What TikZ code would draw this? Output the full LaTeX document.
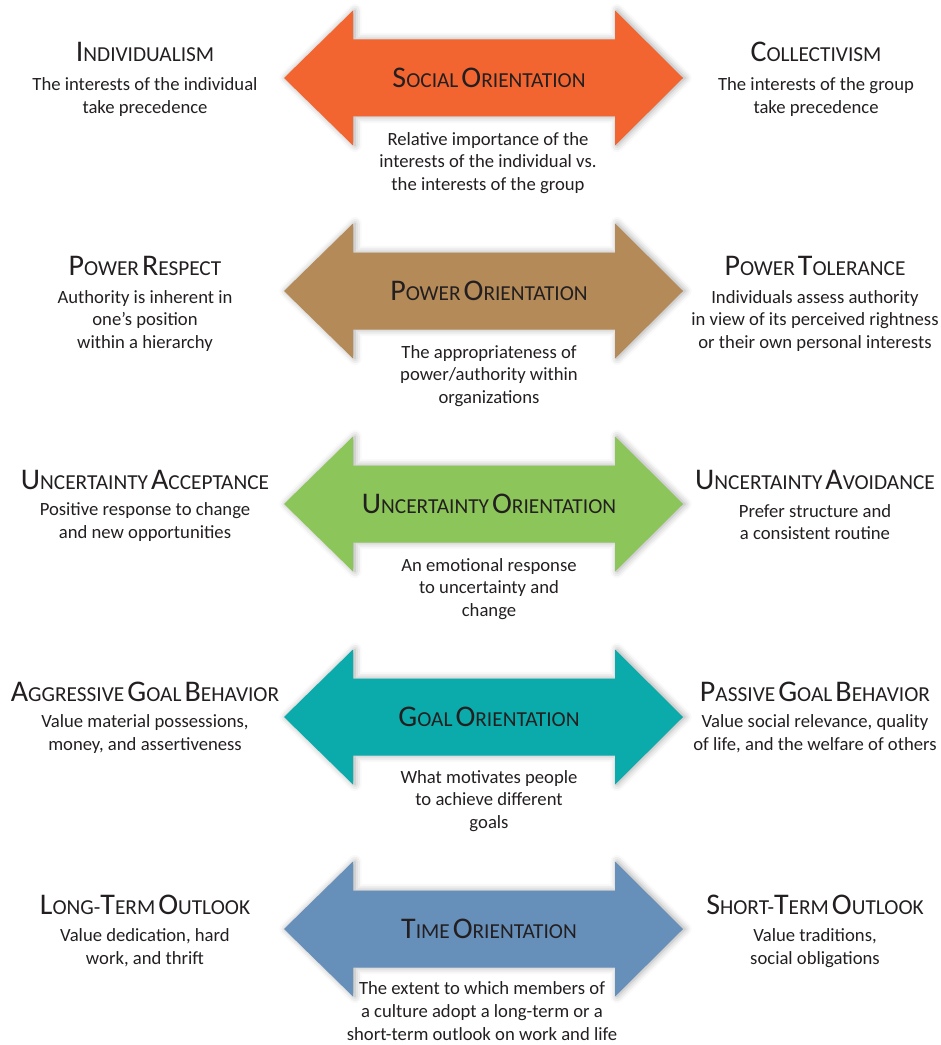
\documentclass[tikz,border=0pt]{standalone}
\usepackage{fontspec}
\setmainfont{Carlito}
\usepackage{tikz}
\usetikzlibrary{positioning, shadows.blur}
\definecolor{txt}{HTML}{231F20}
\definecolor{socialc}{HTML}{F26530}
\definecolor{powerc}{HTML}{B48A58}
\definecolor{uncertc}{HTML}{8CC65A}
\definecolor{goalc}{HTML}{0AABAA}
\definecolor{timec}{HTML}{668FBA}
\newcommand{\capword}[2]{{\fontsize{22.5}{26}\selectfont #1}{\fontsize{16}{19}\selectfont #2}}
\newcommand{\twoway}[2]{\fill[#2, blur shadow={shadow xshift=1.5pt, shadow yshift=0pt, shadow blur radius=5pt, shadow opacity=35}]
	(284,#1) -- (353,#1-67.5) -- (353,#1-38.5) -- (615,#1-38.5) -- (615,#1-67.5) -- (683,#1)
	-- (615,#1+67.5) -- (615,#1+38.5) -- (353,#1+38.5) -- (353,#1+67.5) -- cycle;}
\tikzstyle{head}=[text=txt, inner sep=0pt]
\tikzstyle{desc}=[text=txt, align=center, inner sep=0pt, font=\fontsize{14}{17}\selectfont]

\begin{document}
\begin{tikzpicture}[x=0.75pt, y=-0.75pt]
	\useasboundingbox (0,0) rectangle (940,1045);
	% arrows
	\twoway{78}{socialc}
	\twoway{291}{powerc}
	\twoway{504}{uncertc}
	\twoway{717}{goalc}
	\twoway{929}{timec}
	% social orientation
	\node [head] (so) at (489, 78) {\capword{S}{OCIAL} \capword{O}{RIENTATION}};
	\node [desc] (sod) at (488, 163) {Relative importance of the\\interests of the individual vs.\\the interests of the group};
	\node [head] (ind) at (145, 52) {\capword{I}{NDIVIDUALISM}};
	\node [desc] (indd) at (145, 97) {The interests of the individual\\take precedence};
	\node [head] (col) at (816, 52) {\capword{C}{OLLECTIVISM}};
	\node [desc] (cold) at (816, 97) {The interests of the group\\take precedence};
	% power orientation
	\node [head] (po) at (489, 291) {\capword{P}{OWER} \capword{O}{RIENTATION}};
	\node [desc] (pod) at (489, 376) {The appropriateness of\\power/authority within\\organizations};
	\node [head] (pr) at (145, 266) {\capword{P}{OWER} \capword{R}{ESPECT}};
	\node [desc] (prd) at (145, 321) {Authority is inherent in\\one’s position\\within a hierarchy};
	\node [head] (pt) at (815, 266) {\capword{P}{OWER} \capword{T}{OLERANCE}};
	\node [desc] (ptd) at (815, 321) {Individuals assess authority\\in view of its perceived rightness\\or their own personal interests};
	% uncertainty orientation
	\node [head] (uo) at (489, 504) {\capword{U}{NCERTAINTY} \capword{O}{RIENTATION}};
	\node [desc] (uod) at (489, 589) {An emotional response\\to uncertainty and\\change};
	\node [head] (uac) at (145, 480) {\capword{U}{NCERTAINTY} \capword{A}{CCEPTANCE}};
	\node [desc] (uacd) at (145, 522) {Positive response to change\\and new opportunities};
	\node [head] (uav) at (815, 480) {\capword{U}{NCERTAINTY} \capword{A}{VOIDANCE}};
	\node [desc] (uavd) at (815, 522) {Prefer structure and\\a consistent routine};
	% goal orientation
	\node [head] (go) at (489, 717) {\capword{G}{OAL} \capword{O}{RIENTATION}};
	\node [desc] (god) at (489, 801) {What motivates people\\to achieve different\\goals};
	\node [head] (agb) at (145, 692) {\capword{A}{GGRESSIVE} \capword{G}{OAL} \capword{B}{EHAVIOR}};
	\node [desc] (agbd) at (145, 734) {Value material possessions,\\money, and assertiveness};
	\node [head] (pgb) at (815, 692) {\capword{P}{ASSIVE} \capword{G}{OAL} \capword{B}{EHAVIOR}};
	\node [desc] (pgbd) at (815, 734) {Value social relevance, quality\\of life, and the welfare of others};
	% time orientation
	\node [head] (to) at (489, 929) {\capword{T}{IME} \capword{O}{RIENTATION}};
	\node [desc] (tod) at (482, 1011) {The extent to which members of\\a culture adopt a long-term or a\\short-term outlook on work and life};
	\node [head] (lto) at (145, 905) {\capword{L}{ONG-}\capword{T}{ERM} \capword{O}{UTLOOK}};
	\node [desc] (ltod) at (145, 948) {Value dedication, hard\\work, and thrift};
	\node [head] (sto) at (815, 905) {\capword{S}{HORT-}\capword{T}{ERM} \capword{O}{UTLOOK}};
	\node [desc] (stod) at (815, 948) {Value traditions,\\social obligations};
\end{tikzpicture}
\end{document}
